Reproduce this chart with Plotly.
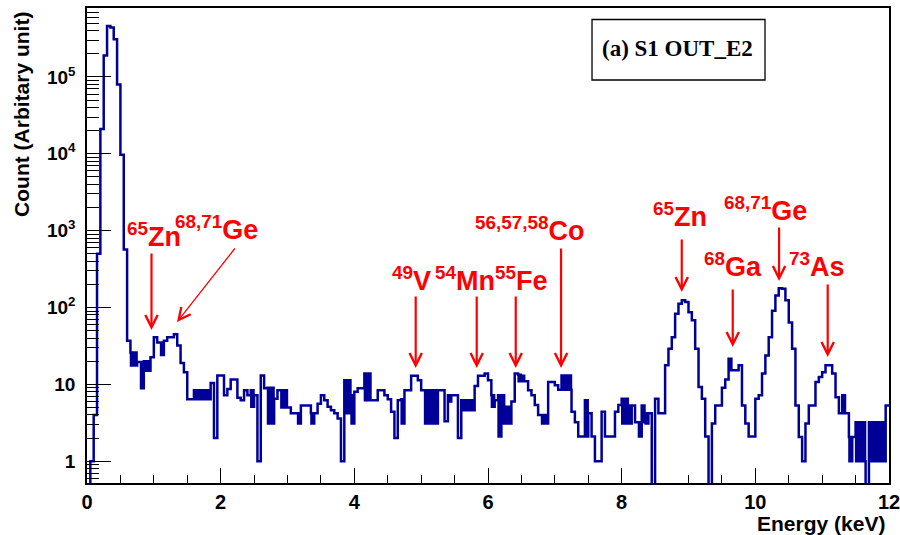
import numpy as np
import plotly.graph_objects as go

# ---- spectrum: 240 bins of 0.05 keV from 0 to 12 keV ----
BIN_WIDTH = 0.05
counts = [
    0.3, 1, 4, 500, 2.1e4, 1.9e5, 4.6e5, 4.4e5, 3.1e5, 8.0e4,            # 0.00-0.45
    9.7e3, 570, 37, 26, 26, 19.5, 19.5, 20, 20, 22.5,                    # 0.50-0.95
    41, 35, 35, 37, 41, 41, 45, 32, 19, 14.4,                            # 1.00-1.45
    6.4, 6.4, 8.4, 8.4, 8.4, 8.4, 8.4, 10.4, 2, 13,                      # 1.50-1.95
    13, 7.2, 8.7, 11.6, 11.6, 6.7, 6.2, 8.4, 7.2, 8.4,                   # 2.00-2.45
    7.2, 1, 13, 8.9, 9, 9, 6.5, 8.4, 8.4, 8.4,                           # 2.50-2.95
    5, 4.2, 4.2, 4.2, 5.3, 5.3, 5.3, 4.2, 4.2, 5.6,                      # 3.00-3.45
    7.2, 6.2, 5.1, 4.6, 4.2, 3.6, 1, 11.3, 11.3, 7.2,                    # 3.50-3.95
    8.0, 8.9, 8.9, 13.8, 13.8, 6.2, 6.2, 8.4, 8.4, 7.2,                  # 4.00-4.45
    6.4, 4.4, 2, 6.2, 6.4, 8.4, 8.4, 12.9, 12.9, 11.3,                   # 4.50-4.95
    8.4, 8.4, 8.4, 8.4, 8.4, 8.4, 8.4, 3.3, 7.2, 7.2,                    # 5.00-5.45
    7.2, 2, 6.2, 6.2, 6.2, 6.2, 9.5, 12.9, 12.9, 13.8,                   # 5.50-5.95
    11.3, 7.2, 6.2, 7.2, 7.2, 5.1, 5.1, 6.0, 13.8, 13.3,                 # 6.00-6.45
    12.9, 11, 8.4, 7.2, 5.4, 4.0, 4.0, 4.0, 10.7, 10.7,                  # 6.50-6.95
    9.7, 8.5, 13, 13, 13, 4.4, 3.2, 2.1, 2.1, 6.2,                       # 7.00-7.45
    4.2, 2.1, 1, 1, 4.4, 2.1, 2.1, 2.1, 4.4, 5.4,                        # 7.50-7.95
    6.5, 6.5, 5.3, 5.3, 3.2, 3.2, 5.3, 4.2, 4.2, 0.3,                    # 8.00-8.45
    6.5, 4.2, 4.2, 17.7, 29, 41, 83, 112, 124, 118,                      # 8.50-8.95
    87, 68, 29, 9.2, 6.5, 2.1, 0.3, 3.1, 5.3, 5.3,                       # 9.00-9.45
    9, 11.6, 21.6, 15.2, 15.2, 17.7, 5.3, 3.1, 2.1, 2.1,                 # 9.50-9.95
    6.5, 7.2, 13.8, 23.8, 41, 91, 143, 178, 175, 124,                    # 10.00-10.45
    64, 29, 5.3, 2.07, 1, 3.1, 5.3, 5.3, 10.7, 12.5,                     # 10.50-10.95
    14.4, 17.7, 17.7, 13.8, 6.8, 4.2, 7.2, 4.2, 2.07, 2.07,              # 11.00-11.45
    3.2, 3.2, 3.2, 0.3, 3.2, 3.2, 3.2, 3.2, 3.2, 5.3,                    # 11.50-11.95
]

# bins whose content flickers between two levels (lower level given here)
counts_low = {
    13: 17.6, 14: 17.6, 16: 8.9, 17: 15, 18: 15, 22: 24,
    32: 6.4, 33: 6.4, 34: 6.4, 35: 6.4, 36: 6.4,
    49: 5.1, 54: 3.1, 55: 3.1, 58: 5, 59: 5, 63: 3.1, 67: 3.1,
    77: 4.2, 78: 4.2, 79: 3.1, 83: 6.2, 84: 6.2, 94: 3.1,
    101: 3.1, 102: 3.1, 103: 3.1, 104: 3.1, 108: 6.0,
    112: 4.6, 113: 4.6, 114: 4.6, 115: 4.6, 121: 5.1,
    123: 2.1, 124: 3.1, 125: 3.1, 126: 3.1, 129: 11, 130: 11,
    136: 3.1, 137: 3.1, 142: 8.5, 143: 8.5, 144: 8.5, 149: 2.1,
    160: 3.1, 161: 3.1, 162: 3.1, 165: 2.1, 166: 3.2, 167: 3.1,
    192: 15.2, 226: 4.2, 228: 1, 230: 1, 231: 1, 232: 1,
    234: 1, 235: 1, 236: 1, 237: 1, 238: 1,
}

# ---- peak labels and arrows (energy in keV, height in log10 counts) ----
label_text = ["<sup>65</sup>Zn", "<sup>68,71</sup>Ge", "<sup>49</sup>V", "<sup>54</sup>Mn",
              "<sup>55</sup>Fe", "<sup>56,57,58</sup>Co", "<sup>65</sup>Zn",
              "<sup>68,71</sup>Ge", "<sup>68</sup>Ga", "<sup>73</sup>As"]
label_x = [0.569, 1.287, 4.534, 5.177, 6.075, 5.776, 8.439, 9.503, 9.204, 10.474]
label_y = [2.696, 2.787, 2.123, 2.123, 2.123, 2.774, 2.956, 3.034, 2.306, 2.306]

arrow_tail_x = [0.965, 2.230, 4.918, 5.831, 6.415, 7.093, 8.899, 10.355, 9.662, 11.083]
arrow_tail_y = [2.722, 2.787, 2.162, 2.162, 2.162, 2.787, 2.904, 3.060, 2.254, 2.319]
arrow_tip_x = [0.965, 1.347, 4.918, 5.831, 6.415, 7.093, 8.899, 10.355, 9.662, 11.083]
arrow_tip_y = [1.707, 1.811, 1.213, 1.213, 1.213, 1.213, 2.201, 2.345, 1.486, 1.356]

# ---- build the step outline ----
n_bins = len(counts)
edges = np.arange(n_bins) * BIN_WIDTH
xs, ys = [], []
N_SUB = 6
for i, v in enumerate(counts):
    e = edges[i]
    if i in counts_low:
        lo = counts_low[i]
        for j in range(N_SUB):
            xs.append(e + j * BIN_WIDTH / N_SUB)
            ys.append(v if j % 2 == 0 else lo)
    else:
        xs.append(e)
        ys.append(v)
xs.append(n_bins * BIN_WIDTH)
ys.append(counts[-1])

fig = go.Figure()
fig.add_trace(go.Scatter(
    x=xs, y=ys, mode="lines", line=dict(color="#000099", width=2.5, shape="hv"),
    hoverinfo="skip", showlegend=False,
))

# ---- axes ----
FONT = "Liberation Sans"
major_y = [1, 10, 100, 1000, 1e4, 1e5]
major_y_text = ["1", "10", "10<sup>2</sup>", "10<sup>3</sup>", "10<sup>4</sup>", "10<sup>5</sup>"]
minor_y = [m * 10.0 ** p for p in range(-1, 6) for m in range(2, 10) if 0.55 < m * 10.0 ** p < 8e5]

fig.update_xaxes(
    range=[0, 12], showline=True, linecolor="black", linewidth=1.5, mirror=True,
    showgrid=False, zeroline=False, automargin=False,
    tickmode="array", tickvals=[0, 2, 4, 6, 8, 10, 12],
    ticks="inside", ticklen=15, tickwidth=1.2, tickcolor="black",
    minor=dict(ticks="inside", ticklen=8, tickwidth=1.2, tickcolor="black", dtick=0.5, showgrid=False),
    tickfont=dict(family=FONT, size=20, color="black", weight="bold"),
    ticklabeloverflow="allow",
)
fig.update_yaxes(
    type="log", range=[np.log10(0.52), np.log10(7.9e5)],
    showline=True, linecolor="black", linewidth=1.5, mirror=True,
    showgrid=False, zeroline=False, automargin=False,
    tickmode="array", tickvals=major_y, ticktext=major_y_text,
    ticks="inside", ticklen=24, tickwidth=1.2, tickcolor="black",
    minor=dict(ticks="inside", ticklen=12, tickwidth=1.2, tickcolor="black",
               tickmode="array", tickvals=minor_y, showgrid=False),
    tickfont=dict(family=FONT, size=19, color="black", weight="bold"),
    ticklabelstandoff=6,
)

annotations = []
# arrows
for tx, ty, hx, hy in zip(arrow_tail_x, arrow_tail_y, arrow_tip_x, arrow_tip_y):
    diag = tx != hx
    annotations.append(dict(
        x=hx, y=hy, ax=tx, ay=ty, xref="x", yref="y", axref="x", ayref="y",
        text="", showarrow=True, arrowcolor="red", arrowhead=5,
        arrowwidth=1.3 if diag else 2.2, arrowsize=1.8 if diag else 1.1, standoff=0,
    ))
# peak labels
for t, x, y in zip(label_text, label_x, label_y):
    annotations.append(dict(
        x=x, y=y, xref="x", yref="y", text=t, showarrow=False,
        xanchor="left", yanchor="bottom",
        font=dict(family=FONT, size=27, color="red", weight="bold"),
    ))
# axis titles
annotations.append(dict(
    x=-0.081, y=0.775, xref="paper", yref="paper", text="Count (Arbitary unit)",
    textangle=-90, showarrow=False, xanchor="center", yanchor="middle",
    font=dict(family=FONT, size=21, color="black", weight="bold"),
))
annotations.append(dict(
    x=0.998, y=-0.085, xref="paper", yref="paper", text="Energy (keV)",
    showarrow=False, xanchor="right", yanchor="middle",
    font=dict(family=FONT, size=21, color="black", weight="bold"),
))
# sample tag
annotations.append(dict(
    x=0.7357, y=0.9137, xref="paper", yref="paper", text="(a) S1 OUT_E2",
    showarrow=False, xanchor="center", yanchor="middle",
    font=dict(family="Liberation Serif", size=23, color="black", weight="bold"),
))

fig.update_layout(
    width=900, height=535,
    margin=dict(l=87, r=11, t=8, b=52, autoexpand=False),
    paper_bgcolor="white", plot_bgcolor="white",
    annotations=annotations,
    shapes=[dict(type="rect", xref="paper", yref="paper",
                 x0=0.6297, x1=0.8454, y0=0.8484, y1=0.9758,
                 line=dict(color="black", width=1.3), fillcolor="white", layer="below")],
)

fig.write_html("out.html")
